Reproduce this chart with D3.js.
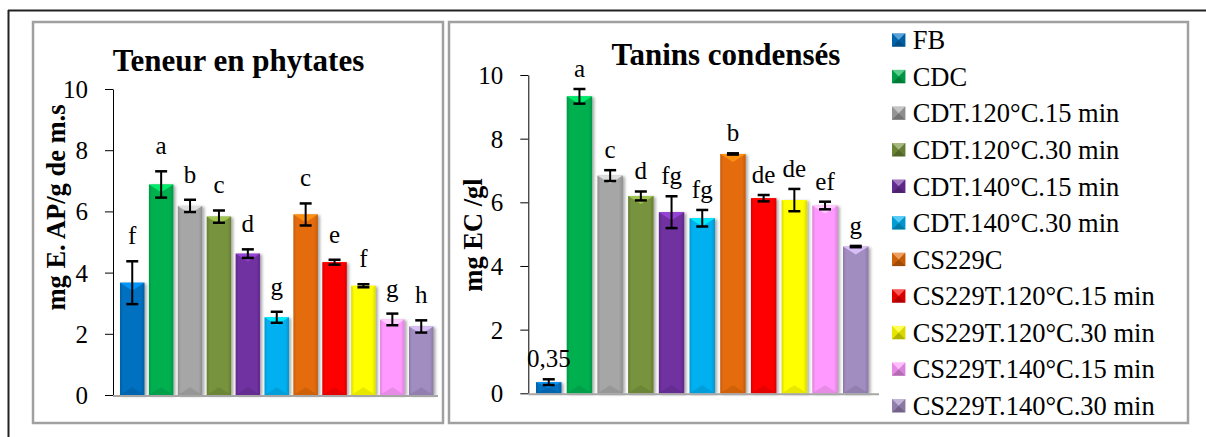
<!DOCTYPE html>
<html>
<head>
<meta charset="utf-8">
<script src="https://cdn.jsdelivr.net/npm/d3@7"></script>
<style>
  body { margin: 0; background: #fff; }
  svg text { font-family: "Liberation Serif", "Times New Roman", serif; fill: #000; }
</style>
</head>
<body>
<div id="chart"></div>
<script>
// Categories (shared by both charts and the legend)
const groups = [
  "FB", "CDC", "CDT.120°C.15 min", "CDT.120°C.30 min", "CDT.140°C.15 min",
  "CDT.140°C.30 min", "CS229C", "CS229T.120°C.15 min", "CS229T.120°C.30 min",
  "CS229T.140°C.15 min", "CS229T.140°C.30 min"
];

// Teneur en phytates (mg E. AP/g de m.s)
const phytates = [3.67, 6.88, 6.18, 5.83, 4.62, 2.54, 5.90, 4.34, 3.57, 2.47, 2.24];
const phytatesErr = [0.70, 0.43, 0.20, 0.20, 0.14, 0.18, 0.36, 0.08, 0.05, 0.19, 0.20];
const phytatesLetters = ["f", "a", "b", "c", "d", "g", "c", "e", "f", "g", "h"];

// Tanins condensés (mg EC /gl)
const tanins = [0.35, 9.33, 6.84, 6.20, 5.69, 5.50, 7.52, 6.13, 6.07, 5.90, 4.61];
const taninsErr = [0.09, 0.23, 0.17, 0.14, 0.50, 0.26, 0.02, 0.10, 0.35, 0.12, 0.02];
const taninsLetters = ["0,35", "a", "c", "d", "fg", "fg", "b", "de", "de", "ef", "g"];

const yTicks = [0, 2, 4, 6, 8, 10];

const palette = ["#0070C0", "#00B050", "#A6A6A6", "#77933C", "#7030A0", "#00B0F0",
                 "#E46C0A", "#FF0000", "#FFFF00", "#FF99FF", "#A28DC1"];

const serif = "'Liberation Serif', 'Times New Roman', serif";

const svg = d3.select("#chart")
  .append("svg")
  .attr("width", 1206)
  .attr("height", 437)
  .attr("font-family", serif);

const defs = svg.append("defs");

// soft shadow on the right of each bar
const shadow = defs.append("filter").attr("id", "shadow")
  .attr("x", "-20%").attr("y", "-5%").attr("width", "150%").attr("height", "110%");
shadow.append("feDropShadow")
  .attr("dx", 2).attr("dy", 1).attr("stdDeviation", 1.4)
  .attr("flood-color", "#000").attr("flood-opacity", 0.35);

// horizontal gradient per colour: darker at the sides
palette.forEach((c, i) => {
  const g = defs.append("linearGradient").attr("id", "grad" + i)
    .attr("x1", "0%").attr("x2", "100%").attr("y1", "0%").attr("y2", "0%");
  const dark = d3.color(c).darker(0.45);
  g.append("stop").attr("offset", "0%").attr("stop-color", dark);
  g.append("stop").attr("offset", "12%").attr("stop-color", c);
  g.append("stop").attr("offset", "85%").attr("stop-color", c);
  g.append("stop").attr("offset", "100%").attr("stop-color", dark);
});

// outer frame (top and left only)
svg.append("line").attr("x1", 8).attr("x2", 1206).attr("y1", 10.5).attr("y2", 10.5)
  .attr("stroke", "#222").attr("stroke-width", 2);
svg.append("line").attr("x1", 8.5).attr("x2", 8.5).attr("y1", 10).attr("y2", 437)
  .attr("stroke", "#222").attr("stroke-width", 2);

// chart panels
svg.append("rect").attr("x", 33).attr("y", 22).attr("width", 410).attr("height", 401)
  .attr("fill", "#fff").attr("stroke", "#A0A0A0").attr("stroke-width", 2.5);
svg.append("rect").attr("x", 449).attr("y", 22).attr("width", 739).attr("height", 401)
  .attr("fill", "#fff").attr("stroke", "#A0A0A0").attr("stroke-width", 2.5);

function renderChart(cfg) {
  const { values, errors, letters, title, yLabel } = cfg;

  const x = d3.scaleBand()
    .domain(groups)
    .range(cfg.xRange)
    .paddingInner(cfg.pad)
    .paddingOuter(cfg.pad / 2);

  const y = d3.scaleLinear()
    .domain([0, 10])
    .range(cfg.yRange);

  const g = svg.append("g");

  // y axis
  const yAxis = g.append("g")
    .attr("transform", `translate(${cfg.axisX},0)`)
    .call(d3.axisLeft(y).tickValues(yTicks).tickSize(8).tickSizeOuter(0).tickPadding(17));
  yAxis.attr("font-family", serif);
  yAxis.selectAll("text")
    .style("font-family", serif)
    .style("font-size", "25px")
    .attr("dy", "0.34em");
  yAxis.select(".domain").attr("stroke", "#000");
  yAxis.selectAll(".tick line").attr("stroke", "#000");

  const bw = x.bandwidth();

  // bars
  const bars = g.selectAll("g.bar")
    .data(values)
    .enter()
    .append("g")
    .attr("class", "bar");

  bars.append("rect")
    .attr("x", (d, i) => x(groups[i]))
    .attr("y", d => y(d))
    .attr("width", bw)
    .attr("height", d => y(0) - y(d))
    .attr("fill", (d, i) => `url(#grad${i})`)
    .attr("filter", "url(#shadow)");

  // bevel: light triangle at the top, dark one at the bottom
  const bev = Math.min(bw * 0.32, 8);
  bars.append("path")
    .attr("d", (d, i) => {
      const x0 = x(groups[i]), t = y(d), h = Math.min(bev, (y(0) - t) / 2);
      return `M${x0},${t}L${x0 + bw},${t}L${x0 + bw / 2},${t + h}Z`;
    })
    .attr("fill", (d, i) => d3.color(palette[i]).brighter(0.9))
    .attr("opacity", 0.9);
  bars.append("path")
    .attr("d", (d, i) => {
      const x0 = x(groups[i]), b = y(0), h = Math.min(bev, (y(0) - y(d)) / 2);
      return `M${x0},${b}L${x0 + bw},${b}L${x0 + bw / 2},${b - h}Z`;
    })
    .attr("fill", (d, i) => d3.color(palette[i]).darker(0.35))
    .attr("opacity", 0.8);

  // x axis line (gray)
  g.append("line")
    .attr("x1", cfg.axisX).attr("x2", cfg.xAxisEnd)
    .attr("y1", y(0) + 1).attr("y2", y(0) + 1)
    .attr("stroke", "#A6A6A6").attr("stroke-width", 2);

  // error bars
  const eb = g.selectAll("g.err")
    .data(values)
    .enter()
    .append("g")
    .attr("class", "err")
    .attr("stroke", "#000");
  const cx = i => x(groups[i]) + bw / 2;
  eb.append("line")
    .attr("x1", (d, i) => cx(i)).attr("x2", (d, i) => cx(i))
    .attr("y1", (d, i) => y(d + errors[i])).attr("y2", (d, i) => y(d - errors[i]))
    .attr("stroke-width", 2);
  eb.append("line")
    .attr("x1", (d, i) => cx(i) - 6).attr("x2", (d, i) => cx(i) + 6)
    .attr("y1", (d, i) => y(d + errors[i])).attr("y2", (d, i) => y(d + errors[i]))
    .attr("stroke-width", 2.5);
  eb.append("line")
    .attr("x1", (d, i) => cx(i) - 6).attr("x2", (d, i) => cx(i) + 6)
    .attr("y1", (d, i) => y(d - errors[i])).attr("y2", (d, i) => y(d - errors[i]))
    .attr("stroke-width", 2.5);

  // significance letters
  g.selectAll("text.letter")
    .data(values)
    .enter()
    .append("text")
    .attr("class", "letter")
    .attr("x", (d, i) => cx(i))
    .attr("y", (d, i) => y(d + errors[i]) - cfg.letterGap)
    .attr("text-anchor", "middle")
    .style("font-size", "25px")
    .text((d, i) => letters[i]);

  // title
  g.append("text")
    .attr("x", cfg.titleX).attr("y", cfg.titleY)
    .attr("text-anchor", "middle")
    .style("font-size", "31px")
    .style("font-weight", "bold")
    .text(title);

  // y label
  g.append("text")
    .attr("transform", `translate(${cfg.yLabelX},${cfg.yLabelY}) rotate(-90)`)
    .attr("text-anchor", "middle")
    .style("font-size", "26.5px")
    .style("font-weight", "bold")
    .text(yLabel);
}

renderChart({
  values: phytates, errors: phytatesErr, letters: phytatesLetters,
  title: "Teneur en phytates", yLabel: "mg E. AP/g de m.s",
  xRange: [117.8, 435.7], pad: 0.152, yRange: [395, 89],
  axisX: 113, xAxisEnd: 438, letterGap: 17,
  titleX: 238.5, titleY: 70.5, yLabelX: 65, yLabelY: 207.5
});

renderChart({
  values: tanins, errors: taninsErr, letters: taninsLetters,
  title: "Tanins condensés", yLabel: "mg EC /gl",
  xRange: [533.4, 871.1], pad: 0.17, yRange: [393.3, 75],
  axisX: 528.3, xAxisEnd: 879, letterGap: 12,
  titleX: 726, titleY: 65, yLabelX: 481.7, yLabelY: 235
});

// legend
const legend = svg.append("g").attr("transform", "translate(892,49.3)");
const sq = 13.4;
const rows = legend.selectAll("g")
  .data(groups)
  .enter()
  .append("g")
  .attr("transform", (d, i) => `translate(0,${i * 36.57})`);
rows.append("rect")
  .attr("x", 0).attr("y", -2.6 - sq)
  .attr("width", sq).attr("height", sq)
  .attr("fill", (d, i) => palette[i]);
// pyramid bevel on the legend keys
const tri = [
  [[0, 0], [sq, 0], [sq / 2, sq / 2], "#fff", 0.35],
  [[0, sq], [sq, sq], [sq / 2, sq / 2], "#000", 0.3],
  [[0, 0], [0, sq], [sq / 2, sq / 2], "#000", 0.1],
  [[sq, 0], [sq, sq], [sq / 2, sq / 2], "#000", 0.15]
];
tri.forEach(t => {
  rows.append("path")
    .attr("transform", `translate(0,${-2.6 - sq})`)
    .attr("d", `M${t[0]}L${t[1]}L${t[2]}Z`)
    .attr("fill", t[3]).attr("opacity", t[4]);
});
rows.append("text")
  .attr("x", 20.7).attr("y", 0)
  .style("font-family", serif)
  .style("font-size", "26.5px")
  .text(d => d);
</script>
</body>
</html>
